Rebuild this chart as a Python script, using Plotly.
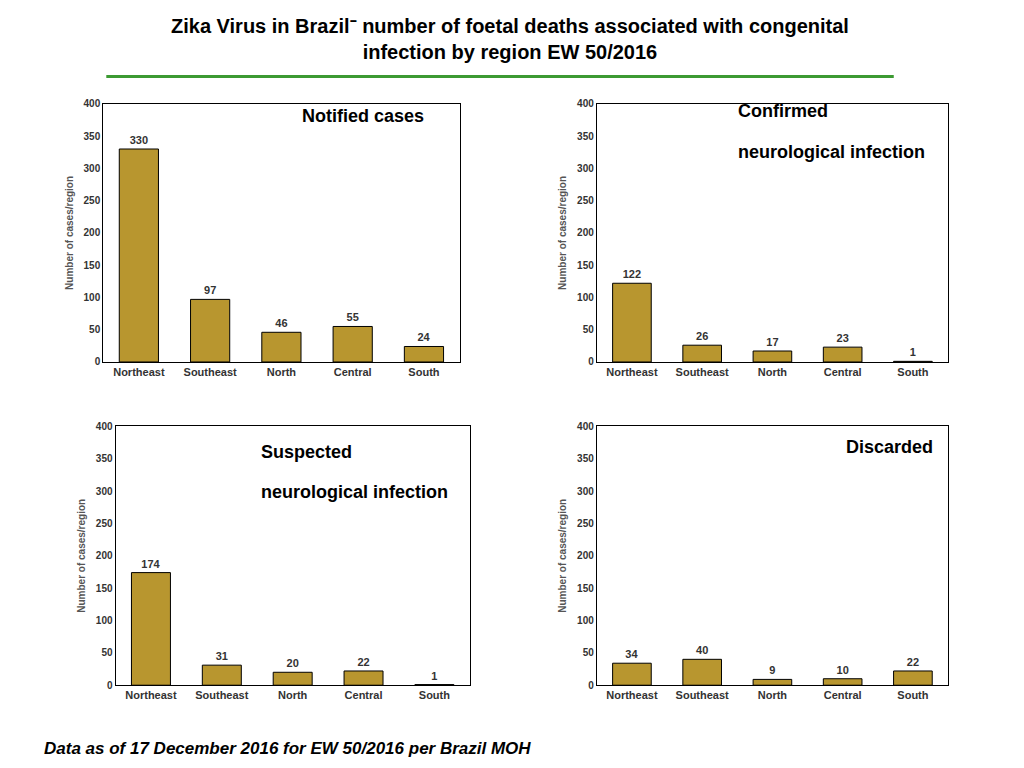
import plotly.graph_objects as go

regions = ["Northeast", "Southeast", "North", "Central", "South"]
notified = [330, 97, 46, 55, 24]
confirmed = [122, 26, 17, 23, 1]
suspected = [174, 31, 20, 22, 1]
discarded = [34, 40, 9, 10, 22]

panels = [
    (notified, [0.093, 0.441], [0.539, 0.880]),
    (confirmed, [0.575, 0.918], [0.539, 0.880]),
    (suspected, [0.105, 0.451], [0.112, 0.454]),
    (discarded, [0.575, 0.918], [0.112, 0.454]),
]
labels = [
    ("Notified cases", 0.347, 0.864, "center"),
    ("Confirmed", 0.711, 0.870, "left"),
    ("neurological infection", 0.711, 0.817, "left"),
    ("Suspected", 0.245, 0.420, "left"),
    ("neurological infection", 0.245, 0.367, "left"),
    ("Discarded", 0.905, 0.427, "right"),
]

bold = dict(family="Liberation Sans", color="#333")
fig = go.Figure()
for i, (vals, xd, yd) in enumerate(panels):
    n = "" if i == 0 else str(i + 1)
    fig.add_trace(go.Bar(x=regions, y=vals, text=["<b>%d</b>" % v for v in vals], textposition="outside",
                         marker=dict(color="#B8962F", line=dict(color="black", width=1)),
                         textfont=dict(size=11, **bold),
                         cliponaxis=False, showlegend=False,
                         xaxis="x" + n, yaxis="y" + n))
    fig.layout["xaxis" + n] = dict(domain=xd, anchor="y" + n, showline=True, mirror=True,
                                  linecolor="black", ticks="",
                                  tickvals=regions, ticktext=["<b>%s</b>" % r for r in regions],
                                  tickfont=dict(size=11, **bold))
    fig.layout["yaxis" + n] = dict(domain=yd, anchor="x" + n, range=[0, 400], dtick=50,
                                  showline=True, mirror=True, linecolor="black", showgrid=False,
                                  tickvals=list(range(0, 401, 50)),
                                  ticktext=["<b>%d</b>" % v for v in range(0, 401, 50)],
                                  tickfont=dict(size=10, **bold),
                                  title=dict(text="<b>Number of cases/region</b>", standoff=8,
                                             font=dict(size=10, family="Liberation Sans", color="#555")))

for text, x, y, anc in labels:
    fig.add_annotation(text="<b>" + text + "</b>", x=x, y=y, xref="paper", yref="paper", showarrow=False,
                       xanchor=anc, yanchor="middle",
                       font=dict(size=18, color="black", family="Liberation Sans"))

fig.add_annotation(text="<b>Zika Virus in Brazil⁻ number of foetal deaths associated with congenital<br>infection by region EW 50/2016</b>",
                   x=0.49, y=1.0, xref="paper", yref="paper", showarrow=False, yanchor="top",
                   font=dict(size=20, color="black", family="Liberation Sans"))
fig.add_annotation(text="<b><i>Data as of 17 December 2016 for EW 50/2016 per Brazil MOH</i></b>",
                   x=0.033, y=0.013, xref="paper", yref="paper", showarrow=False, xanchor="left",
                   yanchor="bottom", font=dict(size=17, color="black", family="Liberation Sans"))
fig.add_shape(type="line", x0=0.096, x1=0.865, y0=0.916, y1=0.916, xref="paper", yref="paper",
              line=dict(color="#3C9A32", width=3))

fig.update_layout(width=1024, height=768, margin=dict(l=0, r=0, t=0, b=0),
                  plot_bgcolor="white", paper_bgcolor="white", bargap=0.45,
                  font=dict(family="Liberation Sans"))
fig.write_html("out.html")
